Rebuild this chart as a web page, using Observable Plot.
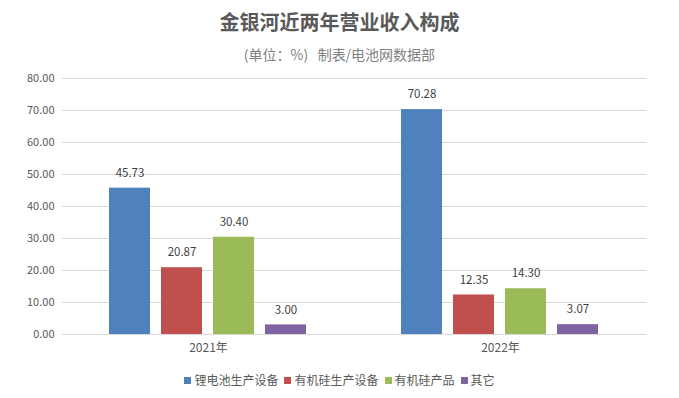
<!DOCTYPE html>
<html>
<head>
<meta charset="utf-8">
<script src="https://cdn.jsdelivr.net/npm/d3@7"></script>
<script src="https://cdn.jsdelivr.net/npm/@observablehq/plot@0.6"></script>
<style>
  html, body { margin: 0; padding: 0; background: #fff; }
  body { width: 679px; height: 398px; overflow: hidden; font-family: "Noto Sans CJK SC", "Noto Sans", sans-serif; }
  .title { height: 44px; line-height: 44px; text-align: center; font-size: 20px; font-weight: bold; color: #595959; }
  .subtitle { height: 20px; line-height: 20px; text-align: center; font-size: 14px; color: #808080; }
  .legend { display: flex; justify-content: center; align-items: center; gap: 6px; font-size: 12px; color: #595959; padding-top: 9px; line-height: 14px; }
  .legend .item { display: flex; align-items: center; gap: 3px; }
  .legend .sw { width: 7px; height: 7px; display: inline-block; }
  #chart svg { display: block; }
</style>
</head>
<body>
<div class="title">金银河近两年营业收入构成</div>
<div class="subtitle">(单位：%)&nbsp;&nbsp;&nbsp;制表/电池网数据部</div>
<div id="chart"></div>
<div class="legend" id="legend"></div>
<script>
const years = ["2021年", "2022年"];
const series = ["锂电池生产设备", "有机硅生产设备", "有机硅产品", "其它"];
const colors = ["#4F81BD", "#C0504D", "#9BBB59", "#8064A2"];
const values2021 = [45.73, 20.87, 30.40, 3.00];
const values2022 = [70.28, 12.35, 14.30, 3.07];
const yTicks = [0, 10, 20, 30, 40, 50, 60, 70, 80];

const byYear = [values2021, values2022];
const data = years.flatMap((yr, i) => series.map((s, j) => ({year: yr, series: s, value: byYear[i][j]})));

const chart = Plot.plot({
  width: 679,
  height: 300,
  marginLeft: 62,
  marginRight: 33,
  marginTop: 14,
  marginBottom: 30,
  style: {fontFamily: "'Noto Sans CJK SC', 'Noto Sans', sans-serif", fontSize: "11px", color: "#595959", background: "transparent"},
  fx: {domain: years, padding: 0, label: null, axis: "bottom", tickSize: 0, tickPadding: 9},
  x: {domain: series, axis: null, paddingInner: 0.21, paddingOuter: 0.87},
  y: {domain: [0, 80], ticks: yTicks, tickFormat: d3.format(".2f"), label: null, tickSize: 0, tickPadding: 8},
  color: {domain: series, range: colors},
  marks: [
    Plot.ruleY(yTicks, {stroke: "#d9d9d9"}),
    Plot.barY(data, {fx: "year", x: "series", y: "value", fill: "series"}),
    Plot.text(data, {fx: "year", x: "series", y: "value", text: d => d.value.toFixed(2), dy: -15, fill: "#404040", fontSize: 11.5})
  ]
});
d3.select(chart).selectAll("[aria-label='fx-axis tick label'] text, [aria-label='fx-axis'] text").style("font-size", "12px");
document.getElementById("chart").appendChild(chart);

const legend = document.getElementById("legend");
series.forEach((s, i) => {
  const item = document.createElement("span");
  item.className = "item";
  const sw = document.createElement("span");
  sw.className = "sw";
  sw.style.background = colors[i];
  const t = document.createElement("span");
  t.textContent = s;
  item.appendChild(sw);
  item.appendChild(t);
  legend.appendChild(item);
});
</script>
</body>
</html>
